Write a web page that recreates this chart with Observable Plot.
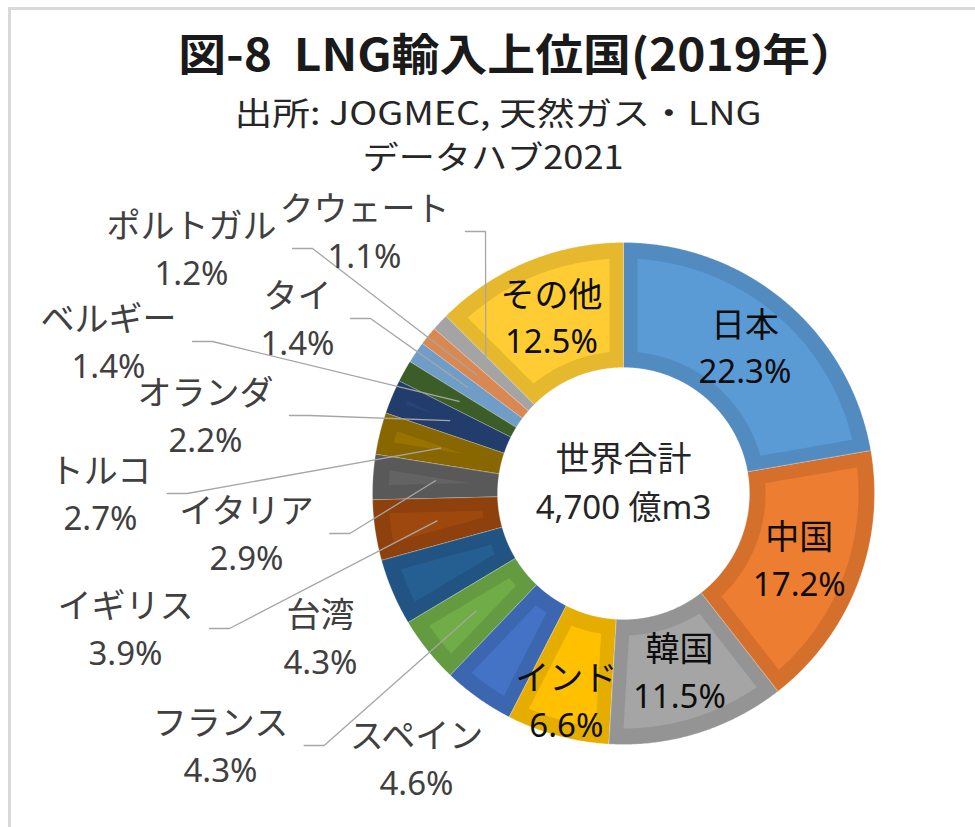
<!DOCTYPE html>
<html><head><meta charset="utf-8">
<script src="https://cdn.jsdelivr.net/npm/d3@7"></script>
<script src="https://cdn.jsdelivr.net/npm/@observablehq/plot@0.6"></script>
<style>
body{margin:0;background:#fff;}
#wrap{position:relative;width:975px;height:827px;overflow:hidden;}
#frame{position:absolute;left:8px;top:7px;width:1000px;height:900px;border-top:3px solid #d9d9d9;border-left:3px solid #d9d9d9;}
#head{position:relative;height:180px;}
.tl{position:absolute;white-space:pre;line-height:1;font-family:"Noto Sans CJK JP","Noto Sans",sans-serif;}
#chart{position:relative;}
</style></head><body>
<div id="wrap"><div id="frame"></div><div id="head"></div><div id="chart"></div></div>
<script>
// ---- data ----
const titleLines = ["図-8  LNG輸入上位国(2019年）", "出所: JOGMEC, 天然ガス・LNG", "データハブ2021"];
const countries = ["日本","中国","韓国","インド","スペイン","フランス","台湾","イギリス","イタリア","トルコ","オランダ","ベルギー","タイ","ポルトガル","クウェート","その他"];
const shares = [22.3,17.2,11.5,6.6,4.6,4.3,4.3,3.9,2.9,2.7,2.2,1.4,1.4,1.2,1.1,12.5];
const colors = ["#5B9BD5","#ED7D31","#A5A5A5","#FFC000","#4472C4","#70AD47","#255E91","#9E480E","#636363","#997300","#264478","#43682B","#7CAFDD","#F1975A","#B7B7B7","#FFCD33"];
const centerLines = ["世界合計", "4,700 億m3"];

// ---- layout (not data) ----
const W = 975, HEAD = 180, H = 827 - HEAD;
const CX = 623, CY = 493 - HEAD, R_OUT = 251, R_IN = 126, BEVEL = 14, RINSET_IN = 16, RINSET_OUT = 16;
const FONT = '"Noto Sans","Noto Sans CJK JP",sans-serif';
const headLayout = [
  {x:518, y:52, w:680, size:44, weight:700, color:"#1a1a1a"},
  {x:498, y:111, w:527, size:32, weight:400, color:"#262626"},
  {x:493, y:155, w:261, size:32, weight:400, color:"#262626"}
];
const insideNames = ["日本","中国","韓国","インド","その他"];
const insideRadius = {"インド": 217};
const outsidePlacement = {
  "クウェート":[-259,-260], "ポルトガル":[-432,-243], "タイ":[-326,-173], "ベルギー":[-515,-150],
  "オランダ":[-418,-76], "トルコ":[-523,2], "イタリア":[-377,42], "イギリス":[-498,137],
  "台湾":[-303,146], "フランス":[-403,254], "スペイン":[-207,267]
};
const noLeader = ["台湾","スペイン"];
const NAME_SIZE = 34, PCT_SIZE = 33, HALF_GAP = 23.5;

// ---- header ----
const head = document.getElementById("head");
titleLines.forEach((t, i) => {
  const L = headLayout[i];
  const d = document.createElement("div");
  d.className = "tl";
  d.textContent = t;
  d.style.fontSize = L.size + "px";
  d.style.fontWeight = L.weight;
  d.style.color = L.color;
  d.style.left = L.x + "px";
  d.style.top = L.y + "px";
  head.appendChild(d);
  const w = d.offsetWidth;
  d.style.transform = `translate(-50%,-50%) scaleX(${L.w / w})`;
});

// ---- measure helper ----
function measure(text, size) {
  const s = document.createElement("span");
  s.style.cssText = `position:absolute;visibility:hidden;white-space:pre;font-family:${FONT};font-size:${size}px`;
  s.textContent = text;
  document.body.appendChild(s);
  const w = s.getBoundingClientRect().width;
  s.remove();
  return w;
}

// ---- geometry from data ----
const total = d3.sum(shares);
let acc = 0;
const slices = countries.map((name, i) => {
  const a0 = acc / total * 2 * Math.PI; acc += shares[i];
  const a1 = acc / total * 2 * Math.PI;
  return {name, share: shares[i], color: colors[i], a0, a1, mid: (a0 + a1) / 2};
});
const pt = (r, a) => [r * Math.sin(a), -r * Math.cos(a)];

const outerRows = [], innerRows = [];
slices.forEach((s, i) => {
  const band = d3.color(s.color).darker(0.3).formatHex();
  const n = Math.max(2, Math.ceil((s.a1 - s.a0) / 0.005));
  const pts = [];
  for (let k = 0; k <= n; k++) pts.push(pt(R_OUT, s.a0 + (s.a1 - s.a0) * k / n));
  for (let k = n; k >= 0; k--) pts.push(pt(R_IN, s.a0 + (s.a1 - s.a0) * k / n));
  pts.forEach(([x, y]) => outerRows.push({id: i, x, y, fill: band}));
  // bevel highlight
  const r1 = R_IN + RINSET_IN, r2 = R_OUT - RINSET_OUT, m = 20;
  const angL = r => Math.min(s.a0 + Math.asin(BEVEL / r), s.mid);
  const angR = r => Math.max(s.a1 - Math.asin(BEVEL / r), s.mid);
  const ip = [];
  for (let k = 0; k <= m; k++) { const r = r1 + (r2 - r1) * k / m; ip.push(pt(r, angL(r))); }
  const aL2 = angL(r2), aR2 = angR(r2);
  for (let k = 1; k < n; k++) ip.push(pt(r2, aL2 + (aR2 - aL2) * k / n));
  for (let k = m; k >= 0; k--) { const r = r1 + (r2 - r1) * k / m; ip.push(pt(r, angR(r))); }
  const aL1 = angL(r1), aR1 = angR(r1);
  for (let k = n - 1; k > 0; k--) ip.push(pt(r1, aL1 + (aR1 - aL1) * k / n));
  ip.forEach(([x, y]) => innerRows.push({id: i, x, y, fill: s.color}));
});

const pctText = v => v.toFixed(1) + "%";
const insideLabels = slices.filter(s => insideNames.includes(s.name)).map(s => {
  const [x, y] = pt(insideRadius[s.name] ?? (R_IN + R_OUT) / 2, s.mid);
  return {x, y, name: s.name, pct: pctText(s.share)};
});
const outsideLabels = slices.filter(s => outsidePlacement[s.name]).map(s => {
  const [x, y] = outsidePlacement[s.name];
  return {x, y, name: s.name, pct: pctText(s.share), slice: s};
});
const leaderRows = [];
outsideLabels.filter(l => !noLeader.includes(l.name)).forEach((l, i) => {
  const w = Math.max(measure(l.name, NAME_SIZE), measure(l.pct, PCT_SIZE));
  const sx = l.x + w / 2 + 16, sy = l.y - 2;
  const [ex, ey] = pt((R_IN + R_OUT) / 2, l.slice.mid);
  [[sx, sy], [sx + 20, sy], [ex, ey]].forEach(([x, y]) => leaderRows.push({id: i, x, y}));
});
const centerRows = [{x: 0, y: 0, name: centerLines[0], pct: centerLines[1]}];

const plot = Plot.plot({
  width: W, height: H, margin: 0,
  x: {domain: [-CX, W - CX], range: [0, W], axis: null},
  y: {domain: [-CY, H - CY], range: [0, H], axis: null},
  color: {type: "identity"},
  style: {fontFamily: FONT, background: "transparent", overflow: "visible"},
  marks: [
    Plot.line(outerRows, {x: "x", y: "y", z: "id", fill: "fill", stroke: "#ffffff", strokeWidth: 0.5, strokeOpacity: 0.45, curve: "linear-closed"}),
    Plot.line(innerRows, {x: "x", y: "y", z: "id", fill: "fill", stroke: "none", curve: "linear-closed"}),
    Plot.line(leaderRows, {x: "x", y: "y", z: "id", stroke: "#a6a6a6", strokeWidth: 1.3}),
    Plot.text(insideLabels, {x: "x", y: "y", text: "name", dy: -HALF_GAP, fontSize: NAME_SIZE, fill: "#0d0d0d"}),
    Plot.text(insideLabels, {x: "x", y: "y", text: "pct", dy: HALF_GAP, fontSize: PCT_SIZE, fill: "#0d0d0d"}),
    Plot.text(outsideLabels, {x: "x", y: "y", text: "name", dy: -HALF_GAP, fontSize: NAME_SIZE, fill: "#404040"}),
    Plot.text(outsideLabels, {x: "x", y: "y", text: "pct", dy: HALF_GAP, fontSize: PCT_SIZE, fill: "#404040"}),
    Plot.text(centerRows, {x: "x", y: "y", text: "name", dy: -33, fontSize: NAME_SIZE, fill: "#262626"}),
    Plot.text(centerRows, {x: "x", y: "y", text: "pct", dy: 15, fontSize: PCT_SIZE, fill: "#262626"})
  ]
});
document.getElementById("chart").appendChild(plot);
</script>
</body></html>
